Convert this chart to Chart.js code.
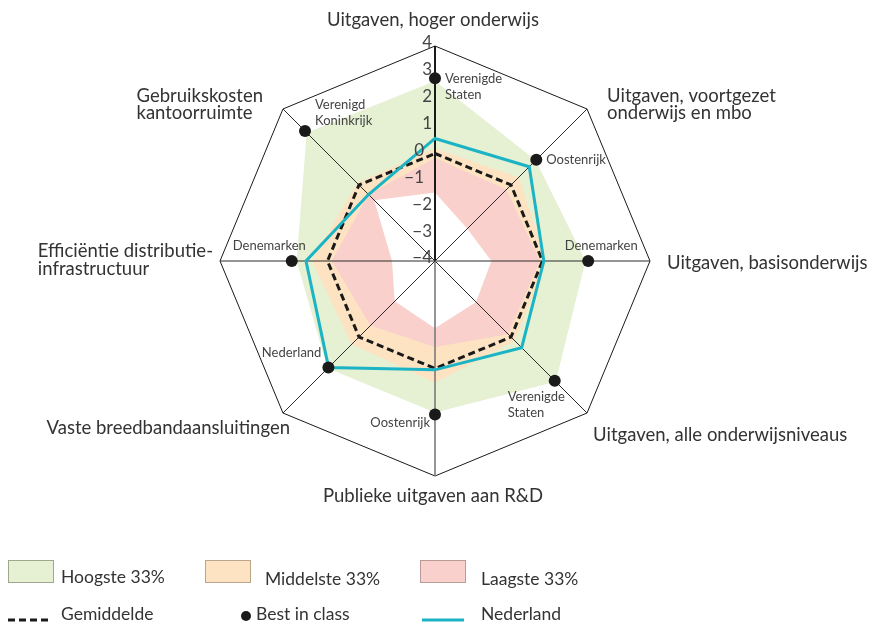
<!DOCTYPE html>
<html><head><meta charset="utf-8">
<script src="https://cdn.jsdelivr.net/npm/chart.js@4.4.1/dist/chart.umd.min.js"></script>
<style>
html,body{margin:0;padding:0;background:#fff;}
canvas{display:block;}
</style></head><body>
<canvas id="c" width="870" height="623"></canvas>
<script>
// ---- data ----
const categories = [
  ['Uitgaven, hoger onderwijs'],
  ['Uitgaven, voortgezet', 'onderwijs en mbo'],
  ['Uitgaven, basisonderwijs'],
  ['Uitgaven, alle onderwijsniveaus'],
  ['Publieke uitgaven aan R&D'],
  ['Vaste breedbandaansluitingen'],
  ['Efficiëntie distributie-', 'infrastructuur'],
  ['Gebruikskosten', 'kantoorruimte']
];
const hoogste = [2.7, 1.3, 1.6, 2.35, 1.64, 1.65, 1.15, 2.75];
const middelste = [0.2, 0.4, 0.15, 0.2, 0.53, 0.38, 0.58, 0.1];
const laagste = [-0.17, -0.24, -0.1, -0.15, -0.8, -0.6, -0.16, -0.5];
const minimum = [-1.45, -2.3, -1.9, -1.84, -1.5, -1.88, -2.4, -0.8];
const gemiddelde = [0, 0, 0, 0, 0, 0, 0, 0];
const nederland = [0.56, 0.96, 0.05, 0.56, 0.05, 1.6, 0.8, -0.5];
const bestInClass = [2.8, 1.33, 1.7, 2.3, 1.71, 1.61, 1.33, 2.84];
const bestCountries = [
  ['Verenigde', 'Staten'], ['Oostenrijk'], ['Denemarken'], ['Verenigde', 'Staten'],
  ['Oostenrijk'], ['Nederland'], ['Denemarken'], ['Verenigd', 'Koninkrijk']
];
const tickValues = [-4, -3, -2, -1, 0, 1, 2, 3, 4];
const tickLabels = ['−4', '−3', '−2', '−1', '0', '1', '2', '3', '4'];
const legendLabels = ['Hoogste 33%', 'Middelste 33%', 'Laagste 33%', 'Gemiddelde', 'Best in class', 'Nederland'];

// ---- styling ----
const FONT = 'Lato, "Open Sans", sans-serif';
const C_GREEN = '#e6f0d3', C_ORANGE = '#fde3c2', C_RED = '#f9d0cb', C_CYAN = '#1cb4c4', C_DARK = '#1a1a1a';

const axisLabelPlace = [
  {align: 'center', dx: -2, dy: -26},
  {align: 'left', dx: 20, dy: -13},
  {align: 'left', dx: 17, dy: 2},
  {align: 'left', dx: 6, dy: 22},
  {align: 'center', dx: -2, dy: 20},
  {align: 'right', dx: 7, dy: 15},
  {align: 'block', dx: -7, dy: -9.5},
  {align: 'block', dx: -20, dy: -13}
];
const dotLabelPlace = [
  {align: 'left', dx: 10, dy: 1},
  {align: 'left', dx: 10, dy: 0},
  {align: 'center', dx: 13, dy: -15},
  {align: 'left', dx: -47, dy: 16},
  {align: 'right', dx: -5, dy: 8},
  {align: 'right', dx: -7, dy: -15},
  {align: 'center', dx: -22.5, dy: -15},
  {align: 'left', dx: 10, dy: -26}
];

function drawLines(ctx, lines, x, y, align, lh) {
  let w = 0;
  lines.forEach(l => { w = Math.max(w, ctx.measureText(l).width); });
  lines.forEach((l, k) => {
    if (align === 'block') { ctx.textAlign = 'left'; ctx.fillText(l, x - w, y + k * lh); }
    else { ctx.textAlign = align; ctx.fillText(l, x, y + k * lh); }
  });
}

const overlay = {
  id: 'overlay',
  afterDatasetDraw(chart, args) {
    if (args.index !== 3) return;
    const s = chart.scales.r, ctx = chart.ctx;
    ctx.save();
    for (let i = 0; i < categories.length; i++) {
      const p = s.getPointPositionForValue(i, s.max);
      ctx.beginPath();
      ctx.moveTo(s.xCenter, s.yCenter);
      ctx.lineTo(p.x, p.y);
      if (i === 0) { ctx.lineWidth = 2; ctx.strokeStyle = C_DARK; }
      else if (i === 4) { ctx.lineWidth = 1.6; ctx.strokeStyle = '#7a7a7a'; }
      else { ctx.lineWidth = 1; ctx.strokeStyle = '#2a2a2a'; }
      ctx.stroke();
    }
    ctx.restore();
  },
  afterDraw(chart) {
    const s = chart.scales.r, ctx = chart.ctx;
    ctx.save();
    ctx.textBaseline = 'middle';
    // tick labels
    ctx.font = '17px ' + FONT;
    ctx.fillStyle = '#444';
    ctx.textAlign = 'right';
    tickValues.forEach((v, k) => {
      const p = s.getPointPositionForValue(0, v);
      const shift = (v === 0 || v === -1) ? 11 : 3;
      ctx.fillText(tickLabels[k], p.x - shift, p.y - 3);
    });
    // axis labels
    ctx.font = '18.5px ' + FONT;
    ctx.fillStyle = '#333';
    categories.forEach((lines, i) => {
      const p = s.getPointPositionForValue(i, s.max);
      const c = axisLabelPlace[i];
      drawLines(ctx, lines, p.x + c.dx, p.y + c.dy, c.align, 17.5);
    });
    // best-in-class labels
    ctx.font = '13px ' + FONT;
    ctx.fillStyle = '#444';
    const dots = chart.getDatasetMeta(0).data;
    bestCountries.forEach((lines, i) => {
      const c = dotLabelPlace[i];
      drawLines(ctx, lines, dots[i].x + c.dx, dots[i].y + c.dy, c.align, 16);
    });
    // legend
    const boxes = [[8, C_GREEN, '#9fa88f'], [205, C_ORANGE, '#b9a68c'], [420, C_RED, '#b99b97']];
    boxes.forEach(b => {
      ctx.fillStyle = b[1]; ctx.fillRect(b[0], 560, 45, 22);
      ctx.strokeStyle = b[2]; ctx.lineWidth = 1; ctx.strokeRect(b[0] + 0.5, 560.5, 45, 22);
    });
    ctx.strokeStyle = C_DARK; ctx.lineWidth = 3; ctx.setLineDash([7, 4]);
    ctx.beginPath(); ctx.moveTo(8, 620); ctx.lineTo(48, 620); ctx.stroke();
    ctx.setLineDash([]);
    ctx.fillStyle = C_DARK; ctx.beginPath(); ctx.arc(246, 616, 5, 0, Math.PI * 2); ctx.fill();
    ctx.strokeStyle = C_CYAN; ctx.lineWidth = 3;
    ctx.beginPath(); ctx.moveTo(422, 620); ctx.lineTo(464, 620); ctx.stroke();
    ctx.font = '17.5px ' + FONT; ctx.fillStyle = '#333'; ctx.textAlign = 'left';
    const lp = [[61, 577], [265, 579], [481, 579], [61, 614], [256, 614], [481, 614]];
    legendLabels.forEach((t, k) => ctx.fillText(t, lp[k][0], lp[k][1]));
    ctx.restore();
  }
};

new Chart(document.getElementById('c'), {
  type: 'radar',
  data: {
    labels: categories,
    datasets: [
      {label: 'Best in class', data: bestInClass, showLine: false, fill: false, borderColor: 'rgba(0,0,0,0)', borderWidth: 0,
       pointRadius: 6, pointBackgroundColor: C_DARK, pointBorderWidth: 0, pointHoverRadius: 6},
      {label: 'Nederland', data: nederland, fill: false, borderColor: C_CYAN, borderWidth: 3, pointRadius: 0},
      {label: 'Gemiddelde', data: gemiddelde, fill: false, borderColor: C_DARK, borderWidth: 3, borderDash: [7, 4], pointRadius: 0},
      {label: 'min', data: minimum, fill: 'start', backgroundColor: '#ffffff', borderWidth: 0, pointRadius: 0},
      {label: 'Laagste 33%', data: laagste, fill: 'start', backgroundColor: C_RED, borderWidth: 0, pointRadius: 0},
      {label: 'Middelste 33%', data: middelste, fill: 'start', backgroundColor: C_ORANGE, borderWidth: 0, pointRadius: 0},
      {label: 'Hoogste 33%', data: hoogste, fill: 'start', backgroundColor: C_GREEN, borderWidth: 0, pointRadius: 0}
    ]
  },
  options: {
    responsive: false,
    animation: false,
    layout: {padding: {left: 220, right: 220, top: 46, bottom: 147}},
    plugins: {legend: {display: false}, tooltip: {enabled: false}},
    elements: {line: {tension: 0}},
    scales: {
      r: {
        min: -4, max: 4, beginAtZero: false,
        ticks: {display: false, stepSize: 1},
        pointLabels: {display: false},
        angleLines: {display: false},
        grid: {
          color: ctx => (ctx.tick && ctx.tick.value === 4) ? C_DARK : 'rgba(0,0,0,0)',
          lineWidth: 1
        }
      }
    }
  },
  plugins: [overlay]
});
</script>
</body></html>
